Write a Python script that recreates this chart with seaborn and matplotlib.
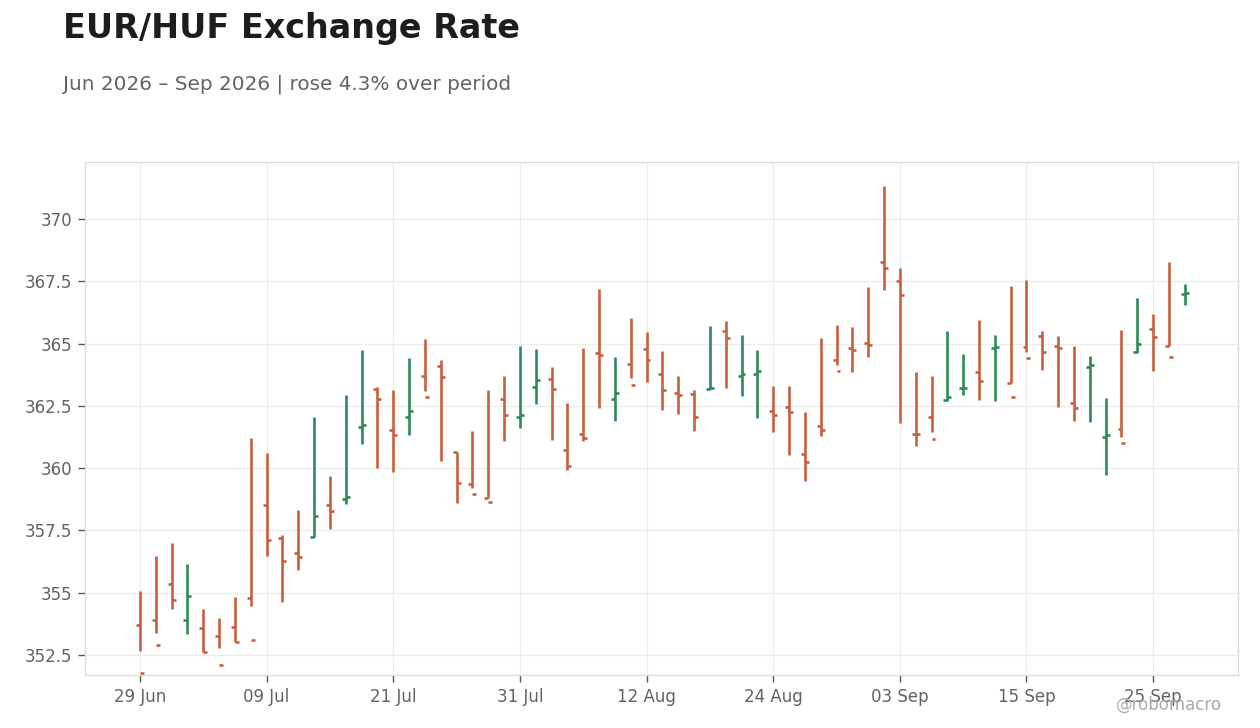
import numpy as np
import pandas as pd
import matplotlib
matplotlib.use("Agg")
import matplotlib.pyplot as plt
import seaborn as sns

# --- data ---
dates = pd.bdate_range("2026-06-29", "2026-09-29")

open_ = [353.72, 353.92, 355.36, 353.90, 353.60, 353.27, 353.64, 354.80, 358.53, 357.21,
         356.61, 357.24, 358.53, 358.76, 361.65, 363.19, 361.54, 362.05, 363.70, 364.11,
         360.65, 359.36, 358.80, 362.78, 362.05, 363.27, 363.59, 360.74, 361.38, 364.64,
         362.79, 364.19, 364.80, 363.79, 363.03, 362.99, 363.18, 365.52, 363.71, 363.79,
         362.31, 362.47, 360.58, 361.70, 364.35, 364.84, 365.04, 368.29, 367.53, 361.38,
         362.07, 362.75, 363.20, 363.87, 364.84, 363.43, 364.88, 365.32, 364.92, 362.63,
         364.07, 361.26, 361.58, 364.68, 365.60, 364.92, 367.00]
high = [355.07, 356.47, 356.99, 356.15, 354.35, 353.99, 354.83, 361.21, 360.61, 357.30,
        358.32, 362.04, 359.69, 362.94, 364.74, 363.25, 363.14, 364.42, 365.18, 364.34,
        360.65, 361.49, 363.14, 363.70, 364.90, 364.78, 364.06, 362.62, 364.82, 367.19,
        364.46, 366.03, 365.47, 364.70, 363.70, 363.14, 365.71, 365.91, 365.35, 364.74,
        363.30, 363.30, 362.26, 365.22, 365.75, 365.67, 367.27, 371.33, 368.04, 363.86,
        363.70, 365.51, 364.58, 365.95, 365.35, 367.31, 367.55, 365.51, 365.31, 364.90,
        364.50, 362.82, 365.55, 366.83, 366.19, 368.28, 367.39]
low = [352.67, 353.40, 354.36, 353.36, 352.63, 352.79, 353.03, 354.48, 356.49, 354.64,
       355.92, 357.24, 357.57, 358.57, 360.98, 360.02, 359.86, 361.34, 363.10, 360.30,
       358.61, 359.22, 358.81, 361.10, 361.62, 362.59, 361.14, 359.94, 361.10, 362.43,
       361.91, 363.63, 363.47, 362.35, 362.19, 361.50, 363.18, 363.23, 362.91, 362.03,
       361.46, 360.54, 359.48, 361.30, 364.15, 363.87, 364.47, 367.17, 361.83, 360.90,
       361.46, 362.71, 362.95, 362.75, 362.71, 363.43, 364.68, 363.95, 362.47, 361.91,
       361.87, 359.74, 361.26, 364.64, 363.91, 364.92, 366.56]
close = [351.79, 352.91, 354.71, 354.88, 352.63, 352.11, 353.03, 353.11, 357.13, 356.29,
         356.45, 358.09, 358.28, 358.85, 361.73, 362.78, 361.33, 362.29, 362.86, 363.66,
         359.40, 358.97, 358.64, 362.15, 362.15, 363.55, 363.19, 360.10, 361.22, 364.54,
         363.03, 363.35, 364.35, 363.15, 362.95, 362.07, 363.23, 365.24, 363.79, 363.91,
         362.15, 362.27, 360.26, 361.54, 363.91, 364.76, 364.96, 368.04, 366.96, 361.36,
         361.17, 362.87, 363.23, 363.51, 364.88, 362.87, 364.43, 364.68, 364.84, 362.43,
         364.15, 361.34, 361.02, 365.00, 365.28, 364.47, 367.02]

UP_COLOR = "#2e8b57"
DOWN_COLOR = "#c8603f"

df = pd.DataFrame({"date": dates, "open": open_, "high": high, "low": low, "close": close})
df["x"] = np.arange(len(df))
df["color"] = np.where(df["close"] >= df["open"], UP_COLOR, DOWN_COLOR)

# --- style ---
sns.set_theme(style="whitegrid")
plt.rcParams["font.family"] = ["DejaVu Sans"]

fig = plt.figure(figsize=(12.6, 7.28), dpi=100)
ax = fig.add_axes([85 / 1260, 1 - 675 / 728, (1238 - 85) / 1260, (675 - 162) / 728])
ax.set_facecolor("white")

# high-low range, open tick on the left, close tick on the right
tick_w = 0.25
ax.vlines(df["x"], df["low"], df["high"], colors=df["color"], lw=1.9, zorder=3)
ax.hlines(df["open"], df["x"] - tick_w, df["x"], colors=df["color"], lw=1.9, zorder=3)
ax.hlines(df["close"], df["x"], df["x"] + tick_w, colors=df["color"], lw=1.9, zorder=3)

ax.set_xlim(-3.47, 69.36)
ax.set_ylim(351.70, 372.29)

xt = df["x"][::8]
ax.set_xticks(xt)
ax.set_xticklabels([d.strftime("%d %b") for d in df["date"][::8]])
ax.set_yticks([352.5, 355, 357.5, 360, 362.5, 365, 367.5, 370])
ax.set_yticklabels(["352.5", "355", "357.5", "360", "362.5", "365", "367.5", "370"])

ax.grid(True, color="#ececec", lw=0.8)
for s in ax.spines.values():
    s.set_color("#dddddd")
    s.set_linewidth(1.0)
ax.tick_params(axis="both", which="both", length=5, width=1, color="#555555",
               labelcolor="#5f6368", labelsize=12, pad=4)
ax.tick_params(axis="x", bottom=True)
ax.tick_params(axis="y", left=True)
ax.set_xlabel("")
ax.set_ylabel("")

fig.text(63 / 1260, 1 - 12 / 728, "EUR/HUF Exchange Rate", fontsize=24, fontweight="bold",
         color="#1c1c21", ha="left", va="top")
fig.text(63 / 1260, 1 - 75 / 728, "Jun 2026 \u2013 Sep 2026 | rose 4.3% over period",
         fontsize=14.4, color="#5f6368", ha="left", va="top")
fig.text(1222 / 1260, 1 - 705 / 728, "@robomacro", fontsize=12, color="#aaaaaa",
         ha="right", va="center")

fig.savefig("out.png", dpi=100, facecolor="white")
